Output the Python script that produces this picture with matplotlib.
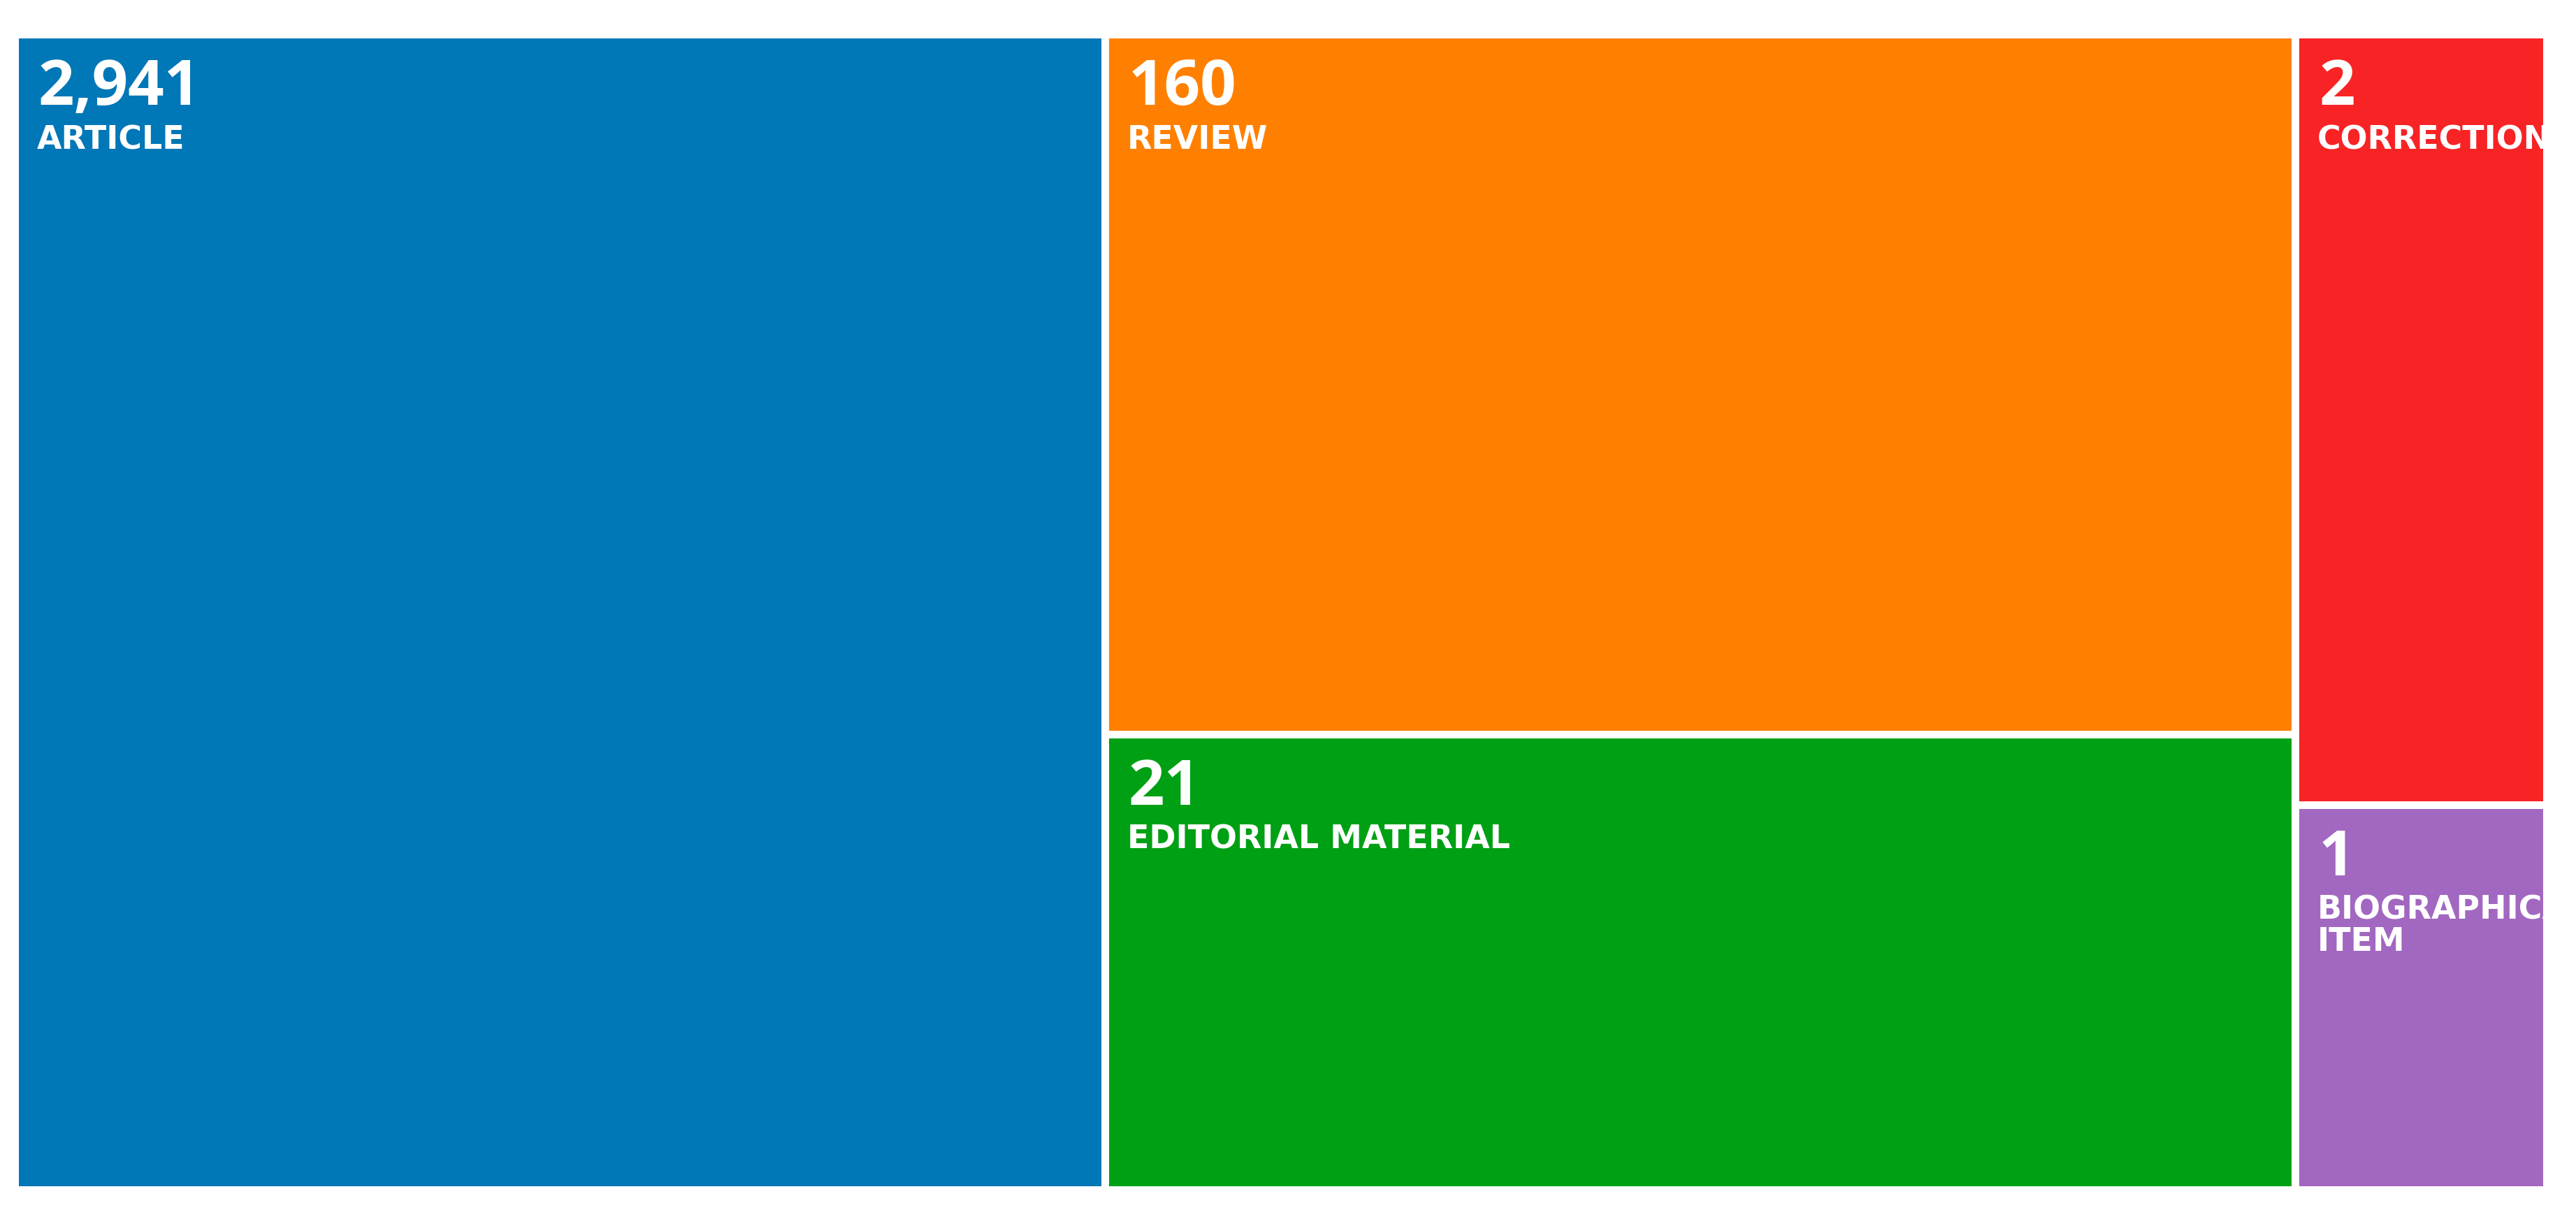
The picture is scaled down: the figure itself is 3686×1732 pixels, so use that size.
import matplotlib
matplotlib.use("Agg")
import matplotlib.pyplot as plt
from matplotlib.patches import Rectangle

# document types and record counts
doc_types = ["ARTICLE", "REVIEW", "EDITORIAL MATERIAL", "CORRECTION", "BIOGRAPHICAL ITEM"]
counts = [2941, 160, 21, 2, 1]
# relative tile areas as drawn in the picture (not proportional to counts)
tile_area = [13.0, 8.6, 5.6, 2.0, 1.0]
columns = [[0], [1, 2], [3, 4]]
colors = ["#0077B7", "#FF8000", "#00A015", "#F72325", "#A267C0"]

W, H = 3687, 1733
dpi = 100
gap = 11
pad = 28
num_size = 65
lab_size = 33
num_font = ["Open Sans", "DejaVu Sans"]
lab_font = ["DejaVu Sans"]

fig = plt.figure(figsize=(W / dpi, H / dpi), dpi=dpi)
# axes in pixel units, origin at top-left
aw, ah = 3623, 1654
ax = fig.add_axes([21.5 / W, (H - 1704.5) / H, aw / W, ah / H])
ax.set_xlim(0, aw)
ax.set_ylim(ah, 0)
ax.axis("off")

renderer = fig.canvas.get_renderer()


def text_width(s):
    t = ax.text(0, 0, s, fontsize=lab_size, fontweight="bold", family=lab_font)
    w = t.get_window_extent(renderer).width
    t.remove()
    return w


def wrap(label, width):
    words = label.split()
    lines = [words[0]]
    for w in words[1:]:
        test = lines[-1] + " " + w
        if text_width(test) <= width:
            lines[-1] = test
        else:
            lines.append(w)
    return lines


total = sum(tile_area)
x = 0
for col in columns:
    col_sum = sum(tile_area[i] for i in col)
    cw = aw * col_sum / total
    y = 0
    for i in col:
        rh = ah * tile_area[i] / col_sum
        x0, y0 = x + gap / 2, y + gap / 2
        w, h = cw - gap, rh - gap
        rect = Rectangle((x0, y0), w, h, facecolor=colors[i], edgecolor="none")
        ax.add_patch(rect)

        t1 = ax.annotate(f"{counts[i]:,}", xy=(x0, y0), xytext=(pad, -94),
                         textcoords="offset pixels", fontsize=num_size,
                         fontweight="bold", family=num_font, color="white",
                         ha="left", va="baseline")
        t1.set_clip_path(rect)
        for k, line in enumerate(wrap(doc_types[i], w - pad)):
            t2 = ax.annotate(line, xy=(x0, y0), xytext=(pad - 2, -157 - 45 * k),
                             textcoords="offset pixels", fontsize=lab_size,
                             fontweight="bold", family=lab_font, color="white",
                             ha="left", va="baseline")
            t2.set_clip_path(rect)
        y += rh
    x += cw

fig.savefig("out.png", dpi=dpi, facecolor="white")
